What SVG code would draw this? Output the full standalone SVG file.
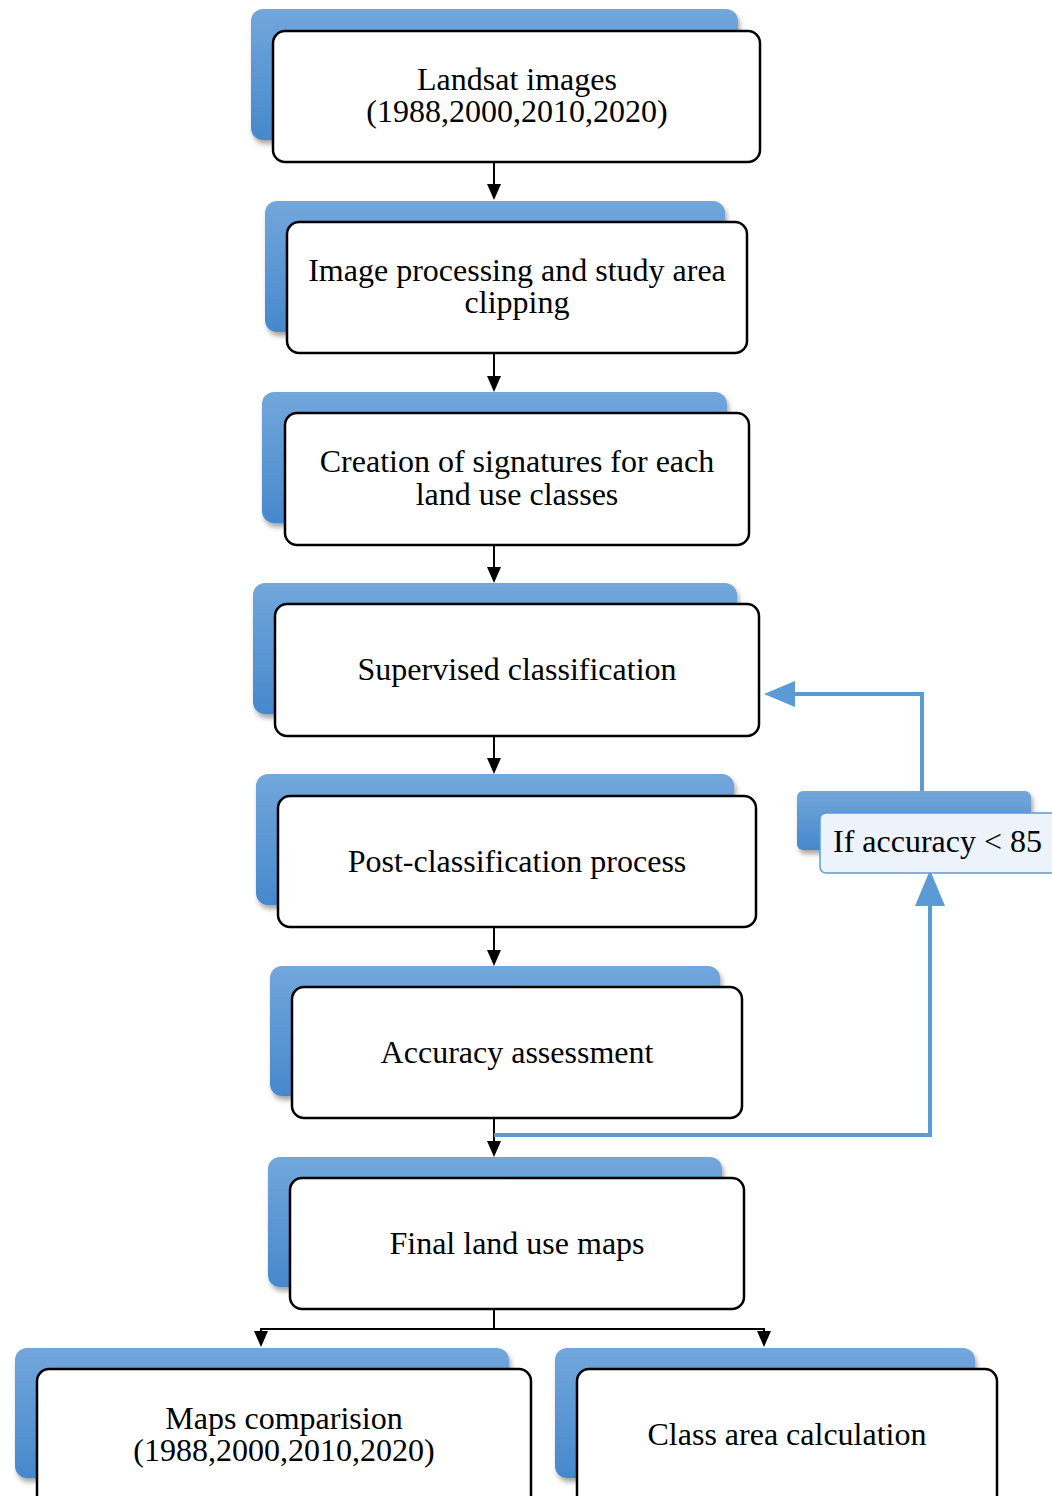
<svg xmlns="http://www.w3.org/2000/svg" width="1052" height="1496" viewBox="0 0 1052 1496">
<defs>
<linearGradient id="bg" x1="0" y1="0" x2="0" y2="1">
<stop offset="0" stop-color="#72A7DC"/>
<stop offset="1" stop-color="#4688CC"/>
</linearGradient>
<filter id="sh" x="-5%" y="-5%" width="115%" height="125%">
<feDropShadow dx="2" dy="4" stdDeviation="2.5" flood-color="#000" flood-opacity="0.35"/>
</filter>
<path id="ah" d="M-7,-16 L7,-16 L0,0 Z" fill="#000"/>
</defs>
<style>
.back{fill:url(#bg);filter:url(#sh)}
.front{fill:#fff;stroke:#000;stroke-width:2.5}
.t{font-family:"Liberation Serif","Times New Roman",serif;font-size:32px;fill:#000;text-anchor:middle}
.con{stroke:#000;stroke-width:2;fill:none}
.fb{stroke:#5B9BD5;stroke-width:4;fill:none}
</style>
<g id="connectors">
<line class="con" x1="494" y1="162" x2="494" y2="186"/>
<use href="#ah" x="494" y="200"/>
<line class="con" x1="494" y1="353" x2="494" y2="378"/>
<use href="#ah" x="494" y="392"/>
<line class="con" x1="494" y1="545" x2="494" y2="569"/>
<use href="#ah" x="494" y="583"/>
<line class="con" x1="494" y1="736" x2="494" y2="760"/>
<use href="#ah" x="494" y="774"/>
<line class="con" x1="494" y1="927" x2="494" y2="952"/>
<use href="#ah" x="494" y="966"/>
<line class="con" x1="494" y1="1118" x2="494" y2="1143"/>
<use href="#ah" x="494" y="1157"/>
<polyline class="con" points="494,1309 494,1329"/>
<polyline class="con" points="261,1336 261,1329 764,1329 764,1336"/>
<use href="#ah" x="261" y="1347"/>
<use href="#ah" x="764" y="1347"/>
<polyline class="fb" points="494,1135 930,1135 930,904"/>
<path d="M915,906 L945,906 L930,870 Z" fill="#5B9BD5"/>
<polyline class="fb" points="922,797 922,694 794,694"/>
<path d="M795,681 L795,707 L764,694 Z" fill="#5B9BD5"/>
</g>
<g id="n1">
<rect class="back" x="251" y="9" width="487" height="131" rx="12"/>
<rect class="front" x="273" y="31" width="487" height="131" rx="12"/>
<text class="t" x="517" y="90">Landsat images</text>
<text class="t" x="517" y="122">(1988,2000,2010,2020)</text>
</g>
<g id="n2">
<rect class="back" x="265" y="201" width="460" height="131" rx="12"/>
<rect class="front" x="287" y="222" width="460" height="131" rx="12"/>
<text class="t" x="517" y="281">Image processing and study area</text>
<text class="t" x="517" y="313">clipping</text>
</g>
<g id="n3">
<rect class="back" x="262" y="392" width="465" height="131" rx="12"/>
<rect class="front" x="285" y="413" width="464" height="132" rx="12"/>
<text class="t" x="517" y="472">Creation of signatures for each</text>
<text class="t" x="517" y="505">land use classes</text>
</g>
<g id="n4">
<rect class="back" x="253" y="583" width="484" height="131" rx="12"/>
<rect class="front" x="275" y="604" width="484" height="132" rx="12"/>
<text class="t" x="517" y="680">Supervised classification</text>
</g>
<g id="n5">
<rect class="back" x="256" y="774" width="478" height="131" rx="12"/>
<rect class="front" x="278" y="796" width="478" height="131" rx="12"/>
<text class="t" x="517" y="872">Post-classification process</text>
</g>
<g id="n6">
<rect class="back" x="270" y="966" width="450" height="130" rx="12"/>
<rect class="front" x="292" y="987" width="450" height="131" rx="12"/>
<text class="t" x="517" y="1063">Accuracy assessment</text>
</g>
<g id="n7">
<rect class="back" x="268" y="1157" width="454" height="130" rx="12"/>
<rect class="front" x="290" y="1178" width="454" height="131" rx="12"/>
<text class="t" x="517" y="1254">Final land use maps</text>
</g>
<g id="n8">
<rect class="back" x="15" y="1348" width="494" height="130" rx="12"/>
<rect class="front" x="37" y="1369" width="494" height="140" rx="12"/>
<text class="t" x="284" y="1429">Maps comparision</text>
<text class="t" x="284" y="1461">(1988,2000,2010,2020)</text>
</g>
<g id="n9">
<rect class="back" x="555" y="1348" width="420" height="130" rx="12"/>
<rect class="front" x="577" y="1369" width="420" height="140" rx="12"/>
<text class="t" x="787" y="1445">Class area calculation</text>
</g>
<g id="n10">
<rect class="back" x="797" y="791" width="234" height="59" rx="6"/>
<rect x="820" y="813" width="240" height="60" rx="6" fill="#ECF3FB" stroke="#5B9BD5" stroke-width="1.5"/>
<text class="t" x="833" y="852" style="text-anchor:start">If accuracy &lt; 85</text>
</g>
</svg>
